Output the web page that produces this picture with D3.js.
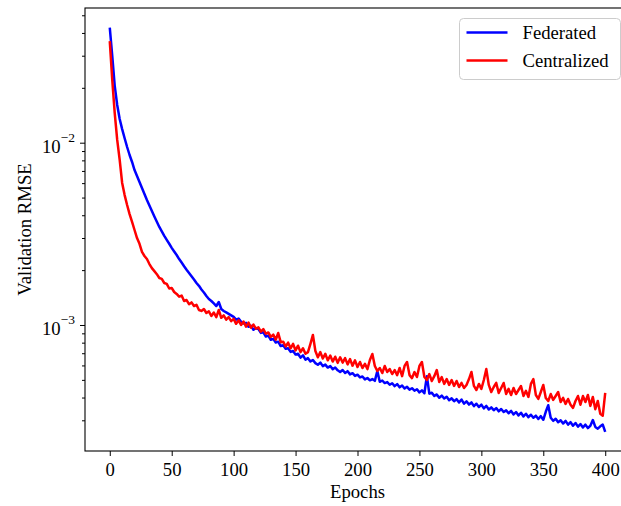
<!DOCTYPE html>
<html>
<head>
<meta charset="utf-8">
<script src="https://cdn.jsdelivr.net/npm/d3@7"></script>
<style>
    body { margin: 0; background: #fff; }
    svg { display: block; background: #fff; }
    text { font-family: "Liberation Serif", "Times New Roman", serif; fill: #000; }
</style>
</head>
<body>
<svg id="drawing_region"></svg>
<script>
// validation RMSE in units of 1e-4, one reading every 2nd epoch (0, 2, ..., 400)
const RMSE_UNIT = 1e-4;
const epochs = d3.range(0, 401, 2);

const federated = [
    428, 299, 205, 161, 135, 118.7, 105.8, 94.7, 85.6, 78.4,
    70.8, 65.6, 60.8, 56.4, 52.3, 48.5, 45.2, 42.2, 39.4, 36.8,
    34.5, 32.6, 30.8, 29.3, 27.9, 26.5, 25.3, 24.2, 23.0, 22.0,
    21.0, 20.1, 19.3, 18.5, 17.76, 17.0, 16.4, 15.66, 15.08, 14.42,
    13.88, 13.54, 13.12, 12.71, 13.37, 12.24, 11.94, 11.72, 11.50, 11.29,
    11.08, 10.70, 10.85, 10.41, 10.20, 10.27, 9.78, 9.90, 9.42, 9.60,
    9.51, 9.05, 9.12, 8.64, 8.75, 8.30, 8.40, 8.02, 8.10, 7.66,
    7.74, 7.40, 7.45, 7.12, 7.20, 6.88, 6.95, 6.62, 6.82, 6.45,
    6.58, 6.31, 6.42, 6.18, 6.05, 6.22, 5.95, 6.06, 5.84, 5.95,
    5.72, 5.85, 5.64, 5.52, 5.66, 5.45, 5.58, 5.36, 5.44, 5.26,
    5.34, 5.16, 5.22, 5.03, 5.12, 4.97, 5.05, 4.94, 5.59, 4.88,
    4.96, 4.80, 4.86, 4.70, 4.79, 4.62, 4.74, 4.55, 4.66, 4.48,
    4.58, 4.42, 4.50, 4.36, 4.44, 4.27, 4.38, 4.22, 5.24, 4.20,
    4.25, 4.08, 4.16, 3.99, 4.10, 3.95, 4.04, 3.87, 3.96, 3.82,
    3.92, 3.76, 3.90, 3.70, 3.81, 3.66, 3.76, 3.59, 3.70, 3.55,
    3.66, 3.49, 3.60, 3.44, 3.53, 3.41, 3.50, 3.36, 3.46, 3.33,
    3.40, 3.28, 3.38, 3.23, 3.33, 3.19, 3.30, 3.15, 3.26, 3.12,
    3.22, 3.10, 3.18, 3.05, 3.16, 3.02, 3.34, 3.63, 3.10, 2.98,
    3.06, 2.93, 3.00, 2.88, 2.98, 2.84, 2.93, 2.80, 2.90, 2.77,
    2.86, 2.74, 2.84, 2.72, 2.80, 3.01, 2.76, 2.70, 2.78, 2.84,
    2.59
];

const centralized = [
    361, 221, 145.4, 103.5, 80.4, 60.1, 51.6, 45.5, 40.6, 36.8,
    33.2, 30.0, 27.9, 25.2, 23.9, 23.0, 21.6, 20.5, 19.75, 19.0,
    18.1, 17.9, 17.0, 16.8, 15.85, 15.96, 15.17, 14.8, 14.3, 14.5,
    13.54, 13.71, 13.0, 13.3, 12.7, 12.9, 12.09, 11.94, 12.24, 11.64,
    11.87, 11.20, 11.70, 11.05, 12.09, 10.95, 11.30, 10.70, 11.05, 10.50,
    10.80, 10.15, 10.60, 10.00, 10.45, 9.80, 10.30, 9.65, 10.05, 9.55,
    9.70, 9.20, 9.50, 8.95, 9.10, 8.60, 8.85, 8.30, 9.04, 8.05,
    8.10, 7.62, 8.00, 7.45, 7.88, 7.25, 7.70, 7.10, 7.45, 6.95,
    7.10, 7.88, 8.82, 7.20, 6.65, 7.10, 6.55, 6.95, 6.40, 6.80,
    6.30, 6.70, 6.20, 6.65, 6.22, 6.58, 6.08, 6.50, 5.98, 6.40,
    5.88, 6.27, 5.81, 6.12, 5.73, 6.43, 6.93, 5.96, 5.59, 5.81,
    5.45, 5.96, 5.52, 5.73, 5.38, 5.66, 5.31, 5.81, 5.24, 5.96,
    6.27, 5.31, 5.11, 5.52, 5.18, 5.96, 6.27, 5.18, 4.99, 5.38,
    4.93, 5.24, 5.66, 4.87, 5.18, 4.75, 5.05, 4.69, 4.99, 4.63,
    4.93, 4.57, 4.81, 4.51, 4.69, 5.05, 5.52, 4.63, 4.40, 4.75,
    4.46, 4.99, 5.73, 4.69, 4.29, 4.57, 4.81, 4.24, 4.51, 4.81,
    4.18, 4.46, 4.13, 4.51, 4.18, 4.40, 4.63, 4.08, 4.35, 4.03,
    4.75, 5.05, 4.13, 3.93, 4.29, 4.69, 3.98, 3.83, 4.18, 3.88,
    4.08, 4.29, 3.78, 3.98, 3.69, 3.93, 3.65, 3.51, 3.83, 4.08,
    3.65, 4.08, 3.78, 4.13, 3.60, 4.03, 3.45, 3.83, 3.26, 3.18,
    4.24
];

const seriesNames = ['Federated', 'Centralized'];
const seriesColors = ['#0000ff', '#ff0000'];

const xTicks = [0, 50, 100, 150, 200, 250, 300, 350, 400];
const yMajorTicks = [1e-3, 1e-2];
const yMajorExponents = ['\u22123', '\u22122'];
const yMinorTicks = [3e-4, 4e-4, 5e-4, 6e-4, 7e-4, 8e-4, 9e-4,
                     2e-3, 3e-3, 4e-3, 5e-3, 6e-3, 7e-3, 8e-3, 9e-3,
                     2e-2, 3e-2, 4e-2, 5e-2];

const xLabel = 'Epochs';
const yLabel = 'Validation RMSE';

class LineChart {

    constructor( config, series ) {
        this.config = config;
        this.series = series;
        this.init();
    }

    init() {
        let self = this;
        const c = self.config;

        self.svg = d3.select( c.parent )
            .attr('width', c.width)
            .attr('height', c.height);

        self.inner_width = c.width - c.margin.left - c.margin.right;
        self.inner_height = c.height - c.margin.top - c.margin.bottom;

        self.chart = self.svg.append('g')
            .attr('transform', `translate(${c.margin.left}, ${c.margin.top})`);

        self.xscale = d3.scaleLinear()
            .domain( c.xdomain )
            .range( [0, self.inner_width] );

        self.yscale = d3.scaleLog()
            .domain( c.ydomain )
            .range( [self.inner_height, 0] );
    }

    render() {
        let self = this;
        const c = self.config;

        // lines
        const line = d3.line()
            .x( d => self.xscale( d.epoch ) )
            .y( d => self.yscale( d.value ) );

        self.chart.selectAll('.series')
            .data( self.series )
            .join('path')
            .attr('class', 'series')
            .attr('fill', 'none')
            .attr('stroke', d => d.color)
            .attr('stroke-width', c.lineWidth)
            .attr('stroke-linejoin', 'round')
            .attr('d', d => line( d.values ));

        // x axis
        const xaxis = d3.axisBottom( self.xscale )
            .tickValues( xTicks )
            .tickSizeInner(5)
            .tickSizeOuter(0)
            .tickPadding(7);

        const xg = self.chart.append('g')
            .attr('transform', `translate(0, ${self.inner_height})`)
            .call( xaxis );
        xg.select('.domain').remove();
        xg.selectAll('text').attr('font-size', c.fontSize).attr('font-family', null);

        // y axis, minor then major ticks
        const yminor = d3.axisLeft( self.yscale )
            .tickValues( yMinorTicks )
            .tickSizeInner(3)
            .tickSizeOuter(0)
            .tickFormat( () => '' );
        const ymg = self.chart.append('g').call( yminor );
        ymg.select('.domain').remove();

        const ymajor = d3.axisLeft( self.yscale )
            .tickValues( yMajorTicks )
            .tickSizeInner(5)
            .tickSizeOuter(0)
            .tickFormat( () => '' );
        const yg = self.chart.append('g').call( ymajor );
        yg.select('.domain').remove();

        self.chart.selectAll('.tick line').attr('stroke', '#000').attr('stroke-width', 1);

        const ylab = self.chart.selectAll('.ymajor-label')
            .data( yMajorTicks )
            .join('text')
            .attr('class', 'ymajor-label')
            .attr('x', -10)
            .attr('y', d => self.yscale(d) + 10.5)
            .attr('text-anchor', 'end')
            .attr('font-size', c.fontSize);
        ylab.append('tspan').text('10');
        ylab.append('tspan')
            .attr('dy', -11)
            .attr('font-size', 13.5)
            .text( (d, i) => yMajorExponents[i] );

        // frame
        self.chart.append('rect')
            .attr('x', 0)
            .attr('y', 0)
            .attr('width', self.inner_width)
            .attr('height', self.inner_height)
            .attr('fill', 'none')
            .attr('stroke', '#000')
            .attr('stroke-width', 1.1);

        // axis labels
        self.chart.append('text')
            .attr('x', self.inner_width / 2)
            .attr('y', self.inner_height + 47)
            .attr('text-anchor', 'middle')
            .attr('font-size', c.fontSize)
            .text( xLabel );

        self.svg.append('text')
            .attr('transform', `translate(31, ${c.margin.top + self.inner_height / 2}) rotate(-90)`)
            .attr('text-anchor', 'middle')
            .attr('font-size', c.fontSize)
            .text( yLabel );

        // legend
        const lg = self.svg.append('g')
            .attr('transform', 'translate(459.5, 18.5)');
        lg.append('rect')
            .attr('width', 161)
            .attr('height', 61)
            .attr('rx', 4)
            .attr('fill', '#fff')
            .attr('fill-opacity', 0.8)
            .attr('stroke', '#cccccc')
            .attr('stroke-width', 1);
        const items = lg.selectAll('.item')
            .data( self.series )
            .join('g')
            .attr('class', 'item')
            .attr('transform', (d, i) => `translate(0, ${14 + i * 28})`);
        items.append('line')
            .attr('x1', 7).attr('x2', 48)
            .attr('stroke', d => d.color)
            .attr('stroke-width', c.lineWidth);
        items.append('text')
            .attr('x', 63)
            .attr('y', 6.8)
            .attr('font-size', c.fontSize)
            .text( d => d.name );
    }
}

const series = [federated, centralized].map( (vals, i) => ({
    name: seriesNames[i],
    color: seriesColors[i],
    values: vals.map( (v, j) => ({ epoch: epochs[j], value: v * RMSE_UNIT }) )
}));

const chart = new LineChart({
    parent: '#drawing_region',
    width: 621,
    height: 506,
    margin: {top: 8, right: -9, bottom: 55, left: 85},
    xdomain: [-20, 420],
    ydomain: [2.036e-4, 5.481e-2],
    fontSize: 18.7,
    lineWidth: 2.5
}, series);
chart.render();
</script>
</body>
</html>
